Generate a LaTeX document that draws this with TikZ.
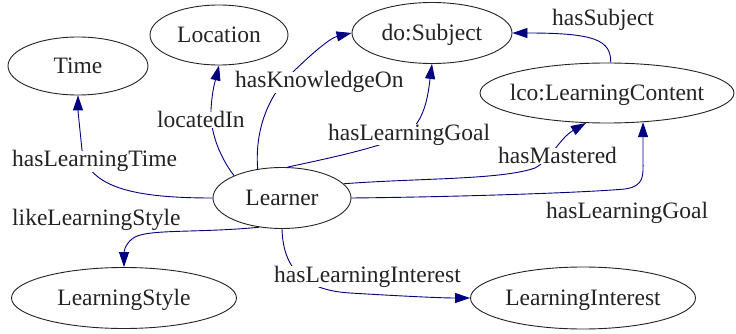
\documentclass[tikz,border=0pt]{standalone}
\usepackage{fontspec}
\setmainfont{Liberation Serif}
\usetikzlibrary{shapes.geometric,arrows.meta}
\definecolor{edgeblue}{RGB}{0,0,128}
\definecolor{inkgray}{RGB}{35,35,35}
\newcommand\zw[1]{\makebox[0pt]{#1}}
\tikzset{
  ent/.style={ellipse, draw=inkgray, line width=0.9pt, fill=white, inner sep=0pt,
              text height=15.5pt, text depth=0pt, text=inkgray},
  rel/.style={draw=edgeblue, line width=0.9pt,
              -{Triangle[length=15pt,width=10pt]}, fill=none},
  lbl/.style={fill=white, inner xsep=1pt, inner ysep=0pt, text=inkgray, anchor=base west}
}
\begin{document}
\begin{tikzpicture}[x=1pt, y=-1pt, font=\fontsize{23.5pt}{28pt}\selectfont]
\useasboundingbox (0,0) rectangle (736,334);
\fill[white] (0,0) rectangle (736,334);

% concept nodes
\node[ent, minimum width=140pt, minimum height=58pt] (time)     at (78,66)   {\zw{Time}};
\node[ent, minimum width=138pt, minimum height=60pt] (location) at (219,35)  {\zw{Location}};
\node[ent, minimum width=160pt, minimum height=61pt] (subject)  at (432,33)  {\zw{do:Subject}};
\node[ent, minimum width=254pt, minimum height=60pt] (content)  at (607,93)  {\zw{lco:LearningContent}};
\node[ent, minimum width=138pt, minimum height=61pt] (learner)  at (282,198) {\zw{Learner}};
\node[ent, minimum width=225pt, minimum height=61pt] (lstyle)   at (124,298) {\zw{LearningStyle}};
\node[ent, minimum width=225pt, minimum height=62pt] (linterest) at (583,298) {\zw{LearningInterest}};

% relations
\draw[rel] (learner.west) .. controls (135,198) and (88,188) .. (82,150)
           .. controls (80,130) and (78,112) .. (time.south);
\draw[rel] (learner.155) .. controls (222,160) and (210,135) .. (211,110)
           .. controls (212,90) and (216,78) .. (location.south);
\draw[rel] (learner.130) .. controls (255,135) and (265,100) .. (290,75)
           .. controls (310,55) and (330,38) .. (subject.west);
\draw[rel] (learner.80) .. controls (320,160) and (380,148) .. (405,135)
           .. controls (425,122) and (428,95) .. (subject.south);
\draw[rel] (learner.13) .. controls (420,178) and (500,180) .. (535,168)
           .. controls (550,160) and (560,138) .. (content.235);
\draw[rel] (learner.east) .. controls (450,197) and (580,193) .. (625,189)
           .. controls (645,186) and (643,175) .. (643,160) -- (content.321);
\draw[rel] (content.83) .. controls (611,40) and (595,33) .. (subject.east);
\draw[rel] (learner.232) .. controls (200,233) and (150,229) .. (135,237)
           .. controls (126,242) and (124,251) .. (lstyle.north);
\draw[rel] (learner.south) .. controls (283,265) and (300,290) .. (350,293)
           .. controls (400,296) and (440,298) .. (linterest.west);

% relation labels
\node[lbl] (l1) at (11,167)  {hasLearningTime};
\node[lbl] (l2) at (156,128) {locatedIn};
\node[lbl] (l3) at (234,88)  {hasKnowledgeOn};
\node[lbl] (l4) at (327,140) {hasLearningGoal};
\node[lbl] (l5) at (497,164) {hasMastered};
\node[lbl] (l6) at (545,218) {hasLearningGoal};
\node[lbl] (l7) at (551,26)  {hasSubject};
\node[lbl] (l8) at (11,225)  {likeLearningStyle};
\node[lbl] (l9) at (273,282) {hasLearningInterest};
\end{tikzpicture}
\end{document}
